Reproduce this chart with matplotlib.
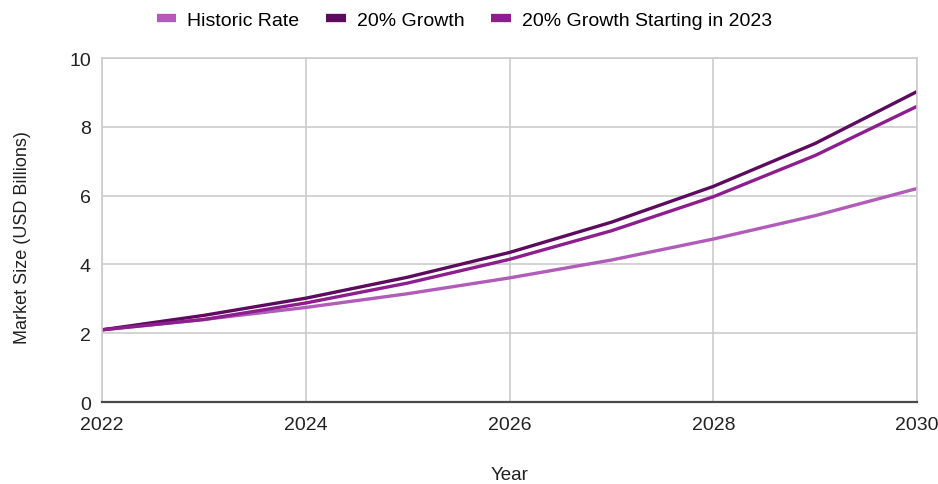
import matplotlib
matplotlib.use("Agg")
import matplotlib.pyplot as plt

plt.rcParams['font.family'] = ['Liberation Sans', 'DejaVu Sans']

years = [2022, 2023, 2024, 2025, 2026, 2027, 2028, 2029, 2030]
historic_rate = [2.1, 2.4, 2.75, 3.15, 3.61, 4.13, 4.74, 5.42, 6.21]
growth_20 = [2.1, 2.52, 3.02, 3.63, 4.35, 5.23, 6.27, 7.52, 9.03]
growth_20_from_2023 = [2.1, 2.4, 2.88, 3.46, 4.15, 4.98, 5.97, 7.17, 8.6]

series = [
    ("Historic Rate", historic_rate, "#b05cb8"),
    ("20% Growth", growth_20, "#5c0b5e"),
    ("20% Growth Starting in 2023", growth_20_from_2023, "#8c1e8e"),
]

fig = plt.figure(figsize=(9.38, 4.85), dpi=100)
ax = fig.add_axes([0.1087, 0.169, 0.869, 0.709])

for name, vals, color in series:
    ax.plot(years, vals, color=color, lw=2.4, label=name, solid_capstyle='butt')

ax.set_xlim(2022, 2030)
ax.set_ylim(0, 10)
ax.set_xticks([2022, 2024, 2026, 2028, 2030])
ax.set_yticks([0, 2, 4, 6, 8, 10])
ax.grid(True, color="#cccccc", lw=1.2)
ax.set_axisbelow(True)
for side in ["top", "right", "left"]:
    ax.spines[side].set_color("#cccccc")
    ax.spines[side].set_linewidth(1.2)
ax.spines["bottom"].set_color("#4a4a4a")
ax.spines["bottom"].set_linewidth(1.6)
ax.tick_params(axis='x', length=0, labelsize=14, colors="#222222", pad=10)
ax.tick_params(axis='y', length=0, labelsize=14, colors="#222222", pad=8)

ax.set_xlabel("Year", fontsize=13.5, color="#222222")
ax.set_ylabel("Market Size (USD Billions)", fontsize=13, color="#222222")
ax.xaxis.set_label_coords(0.5, -0.186)
ax.yaxis.set_label_coords(-0.087, 0.48)

leg = fig.legend(loc="upper center", bbox_to_anchor=(0.495, 1.01), ncol=3, frameon=False,
                 fontsize=14, handlelength=1.0, handleheight=0.5, columnspacing=1.4,
                 handletextpad=0.55)
for h in leg.get_lines():
    h.set_linewidth(6)

fig.savefig("out.png", dpi=100, facecolor="white")
